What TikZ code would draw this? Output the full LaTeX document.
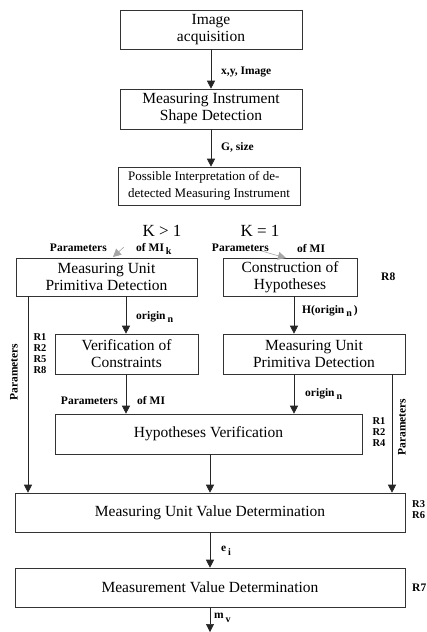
\documentclass[tikz,border=0pt]{standalone}
\usepackage{fontspec}
\setmainfont{Liberation Serif}
\usetikzlibrary{arrows.meta,calc}
\newcommand{\lowsub}[1]{\,\raisebox{-3.5pt}{\fontsize{10}{10}\selectfont #1}}
\begin{document}
\begin{tikzpicture}[x=1pt,y=-1pt,
  box/.style={draw=black!80,line width=0.6pt,rectangle,inner sep=0pt,align=center,
    font=\fontsize{15.5}{17}\selectfont},
  arr/.style={draw=black!85,line width=0.6pt,-{Triangle[length=8pt,width=8pt]}},
  lbl/.style={inner sep=1pt,font=\bfseries\fontsize{11.5}{12}\selectfont},
  rl/.style={inner sep=0pt,align=left,font=\bfseries\fontsize{10.5}{11}\selectfont},
  kl/.style={inner sep=0pt,font=\fontsize{17}{18}\selectfont}]
\useasboundingbox (0,0) rectangle (426,632);
\fill[white] (0,0) rectangle (426,632);
% boxes
\node[box,minimum width=182,minimum height=39] (img) at (211,29.5) {Image\\acquisition};
\node[box,minimum width=182,minimum height=40] (misd) at (211,109) {Measuring Instrument\\Shape Detection};
\node[box,minimum width=182,minimum height=38,align=left,font=\fontsize{13}{17}\selectfont] (pimi) at (209,186) {Possible Interpretation of de-\\detected Measuring Instrument};
\node[box,minimum width=181,minimum height=38] (mupdA) at (106.5,277) {Measuring Unit\\Primitiva Detection};
\node[box,minimum width=134,minimum height=38] (coh) at (290,277) {Construction of\\Hypotheses};
\node[box,minimum width=143,minimum height=40] (voc) at (126.5,354) {Verification of\\Constraints};
\node[box,minimum width=182,minimum height=40] (mupdB) at (314,354) {Measuring Unit\\Primitiva Detection};
\node[box,minimum width=307,minimum height=40] (hv) at (208.5,434) {Hypotheses Verification};
\node[box,minimum width=390,minimum height=39] (muvd) at (210,512.5) {Measuring Unit Value Determination};
\node[box,minimum width=390,minimum height=39] (mvd) at (210,587.5) {Measurement Value Determination};
% helper coordinates
\coordinate (xl) at (28,0);
\coordinate (xm) at (126,0);
\coordinate (xc) at (210,0);
\coordinate (xh) at (294,0);
\coordinate (xr) at (392,0);
\coordinate (endm) at (210,632);
\coordinate (pA) at (124,247);
\coordinate (pAt) at (113,257);
\coordinate (pB) at (258,250);
\coordinate (pBt) at (286,258);
% connectors
\draw[arr] (img.south) -- (misd.north);
\draw[arr] (misd.south) -- (pimi.north -| misd.south);
\draw[arr,draw=black!35] (pA) -- (pAt);
\draw[arr,draw=black!35] (pB) -- (pBt);
\draw[arr] (mupdA.south -| xm) -- (voc.north -| xm);
\draw[arr] (mupdA.south -| xl) -- (muvd.north -| xl);
\draw[arr] (coh.south -| xh) -- (mupdB.north -| xh);
\draw[arr] (voc.south -| xm) -- (hv.north -| xm);
\draw[arr] (mupdB.south -| xh) -- (hv.north -| xh);
\draw[arr] (mupdB.south -| xr) -- (muvd.north -| xr);
\draw[arr] (hv.south -| xc) -- (muvd.north -| xc);
\draw[arr] (muvd.south -| xc) -- (mvd.north -| xc);
\draw[arr] (mvd.south -| xc) -- (endm);
% labels
\node[lbl,anchor=west] (l1) at (220,72) {x,y, Image};
\node[lbl,anchor=west] (l2) at (220,147) {G, size};
\node[kl] (k1) at (162,231) {K > 1};
\node[kl] (k2) at (260,231) {K = 1};
\node[lbl,anchor=east] (pa1) at (108,248) {Parameters};
\node[lbl,anchor=west] (pa2) at (135,249) {of MI\lowsub{k}};
\node[lbl,anchor=east] (pb1) at (270,248) {Parameters};
\node[lbl,anchor=west] (pb2) at (296,249) {of MI};
\node[lbl,anchor=west] (r8) at (380,277) {R8};
\node[lbl,anchor=west] (ho) at (301,311) {H(origin\lowsub{n}\,)};
\node[lbl,anchor=west] (oa) at (135,317) {origin\lowsub{n}};
\node[rl] (rA) at (40,354) {R1\\R2\\R5\\R8};
\node[lbl,anchor=east] (pc1) at (119,401) {Parameters};
\node[lbl,anchor=west] (pc2) at (136,401) {of MI};
\node[lbl,anchor=west] (ob) at (304,394) {origin\lowsub{n}};
\node[rl] (rB) at (379,432) {R1\\R2\\R4};
\node[lbl,rotate=90] (prl) at (14,372) {Parameters};
\node[lbl,rotate=90] (prr) at (402,427) {Parameters};
\node[rl,anchor=west] (rC) at (412,510) {R3\\R6};
\node[lbl,anchor=west] (ei) at (220,551) {e\lowsub{i}};
\node[lbl,anchor=west] (r7) at (411,588) {R7};
\node[lbl,anchor=west] (mv) at (213,618) {m\lowsub{v}};
\end{tikzpicture}
\end{document}
